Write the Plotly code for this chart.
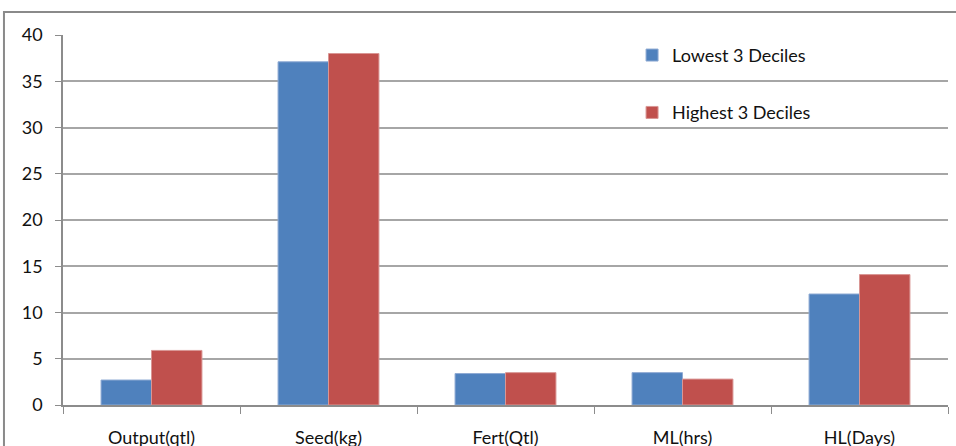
import plotly.graph_objects as go

categories = ["Output(qtl)", "Seed(kg)", "Fert(Qtl)", "ML(hrs)", "HL(Days)"]
lowest_3_deciles = [2.7, 37.1, 3.4, 3.5, 12.0]
highest_3_deciles = [5.9, 38.0, 3.5, 2.8, 14.1]
y_ticks = [0, 5, 10, 15, 20, 25, 30, 35, 40]

FONT = "Lato"
TEXT = "#111111"
GRID = "#a6a6a6"

fig = go.Figure()
fig.add_trace(go.Bar(
    x=categories, y=lowest_3_deciles, name="Lowest 3 Deciles",
    legendgroup="low",
    marker=dict(color="#4F81BD", line=dict(color="#8eaad3", width=1)),
))
fig.add_trace(go.Bar(
    x=categories, y=highest_3_deciles, name="Highest 3 Deciles",
    legendgroup="high",
    marker=dict(color="#C0504D", line=dict(color="#d99694", width=1)),
))

fig.update_layout(
    width=956, height=446,
    margin=dict(l=63, r=8, t=35, b=41, autoexpand=False),
    paper_bgcolor="white", plot_bgcolor="white",
    barmode="group", bargap=0.43, bargroupgap=0,
    font=dict(family=FONT, color=TEXT, size=18),
    legend=dict(
        x=0.643, y=0.995, xanchor="left", yanchor="top",
        traceorder="grouped", tracegroupgap=31,
        font=dict(family=FONT, size=18, color=TEXT),
        itemwidth=30, bgcolor="rgba(0,0,0,0)",
    ),
    showlegend=True,
)

fig.update_xaxes(
    type="category", automargin=False,
    showline=True, linecolor="#8c8c8c", linewidth=1.5,
    ticks="outside", tickson="boundaries", ticklen=7, tickcolor="#8c8c8c",
    ticklabelstandoff=16,
    tickfont=dict(family=FONT, size=18, color=TEXT),
    showgrid=False,
)
fig.update_yaxes(
    range=[0, 40], tickvals=y_ticks, automargin=False,
    showline=True, linecolor="#8c8c8c", linewidth=1.5,
    ticks="outside", ticklen=6, tickcolor="#8c8c8c",
    showgrid=True, gridcolor=GRID, gridwidth=1.5,
    zeroline=False,
    tickfont=dict(family=FONT, size=18, color=TEXT),
    ticklabelstandoff=9,
)

# outer chart frame
fig.add_shape(
    type="rect", xref="paper", yref="paper",
    x0=-0.0667, x1=1.2, y0=-0.5, y1=1.062,
    line=dict(color="#8a8a8a", width=2), layer="below",
)

fig.write_html("out.html")
